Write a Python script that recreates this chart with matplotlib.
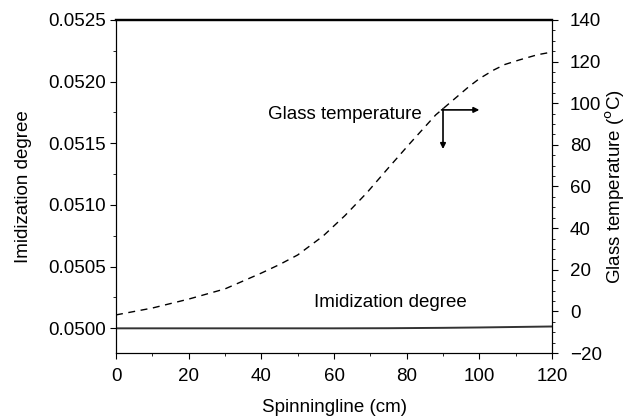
import numpy as np
import matplotlib.pyplot as plt
from matplotlib.ticker import MultipleLocator, FormatStrFormatter

plt.rcParams['font.family'] = ['Liberation Sans', 'DejaVu Sans']
FS = 13.5

# spinning line position (cm)
pos = [0, 10, 20, 30, 40, 45, 50, 57, 63, 69, 75, 81, 88, 97, 100, 104, 107, 111, 116, 120]
# glass temperature along the line (degC)
tg = [-1.7, 1.6, 5.9, 10.8, 18.4, 22.5, 27.1, 36.2, 46.0, 56.9, 69.0, 80.9, 94.4, 107.8,
      111.8, 116.0, 118.6, 120.8, 123.3, 124.6]

# imidization degree along the line
imid_pos = [0, 20, 40, 60, 75, 90, 100, 110, 120]
imid = [0.05, 0.05, 0.05, 0.05, 0.050001, 0.050004, 0.050007, 0.050011, 0.050015]

fig = plt.figure(figsize=(6.35, 4.18), dpi=100)
ax = fig.add_axes([0.1827, 0.1555, 0.6866, 0.7967])
ax2 = ax.twinx()

ax.plot(imid_pos, imid, color='#333333', lw=1.4)
ax2.plot(pos, tg, color='black', lw=1.0, linestyle=(0, (5, 4)))

ax.set_xlim(0, 120)
ax.set_ylim(0.0498, 0.0525)
ax2.set_ylim(-20, 140)

ax.xaxis.set_major_locator(MultipleLocator(20))
ax.xaxis.set_minor_locator(MultipleLocator(10))
ax.yaxis.set_major_locator(MultipleLocator(0.0005))
ax.yaxis.set_minor_locator(MultipleLocator(0.00025))
ax.yaxis.set_major_formatter(FormatStrFormatter('%.4f'))
ax2.yaxis.set_major_locator(MultipleLocator(20))
ax2.yaxis.set_minor_locator(MultipleLocator(5))

for a in (ax, ax2):
    a.tick_params(which='major', direction='out', length=4, width=0.8, labelsize=FS, pad=3)
    a.tick_params(which='minor', direction='out', length=2, width=0.6)
    for s in a.spines.values():
        s.set_linewidth(0.8)
ax.tick_params(axis='x', which='major', pad=7)
ax2.tick_params(axis='y', which='major', pad=9)
ax.spines['top'].set_linewidth(1.6)
ax2.spines['top'].set_linewidth(1.6)

ax.set_xlabel('Spinningline (cm)', fontsize=FS, labelpad=10)
ax.set_ylabel('Imidization degree', fontsize=FS, labelpad=12)
ax2.set_ylabel('Glass temperature ($^{\\mathrm{o}}$C)', fontsize=FS, labelpad=1)

ax2.text(84.2, 94.4, 'Glass temperature', ha='right', va='center', fontsize=FS)
ax.text(75.4, 0.05021, 'Imidization degree', ha='center', va='center', fontsize=FS)

# arrows pointing to the axes each curve belongs to
ax2.annotate('', xy=(100, 96.8), xytext=(89.6, 96.8),
             arrowprops=dict(arrowstyle='-|>', color='black', lw=1.2, mutation_scale=8,
                             shrinkA=0, shrinkB=0))
ax2.annotate('', xy=(90, 78), xytext=(90, 97.4),
             arrowprops=dict(arrowstyle='-|>', color='black', lw=1.2, mutation_scale=8,
                             shrinkA=0, shrinkB=0))

fig.savefig('out.png', dpi=100)
